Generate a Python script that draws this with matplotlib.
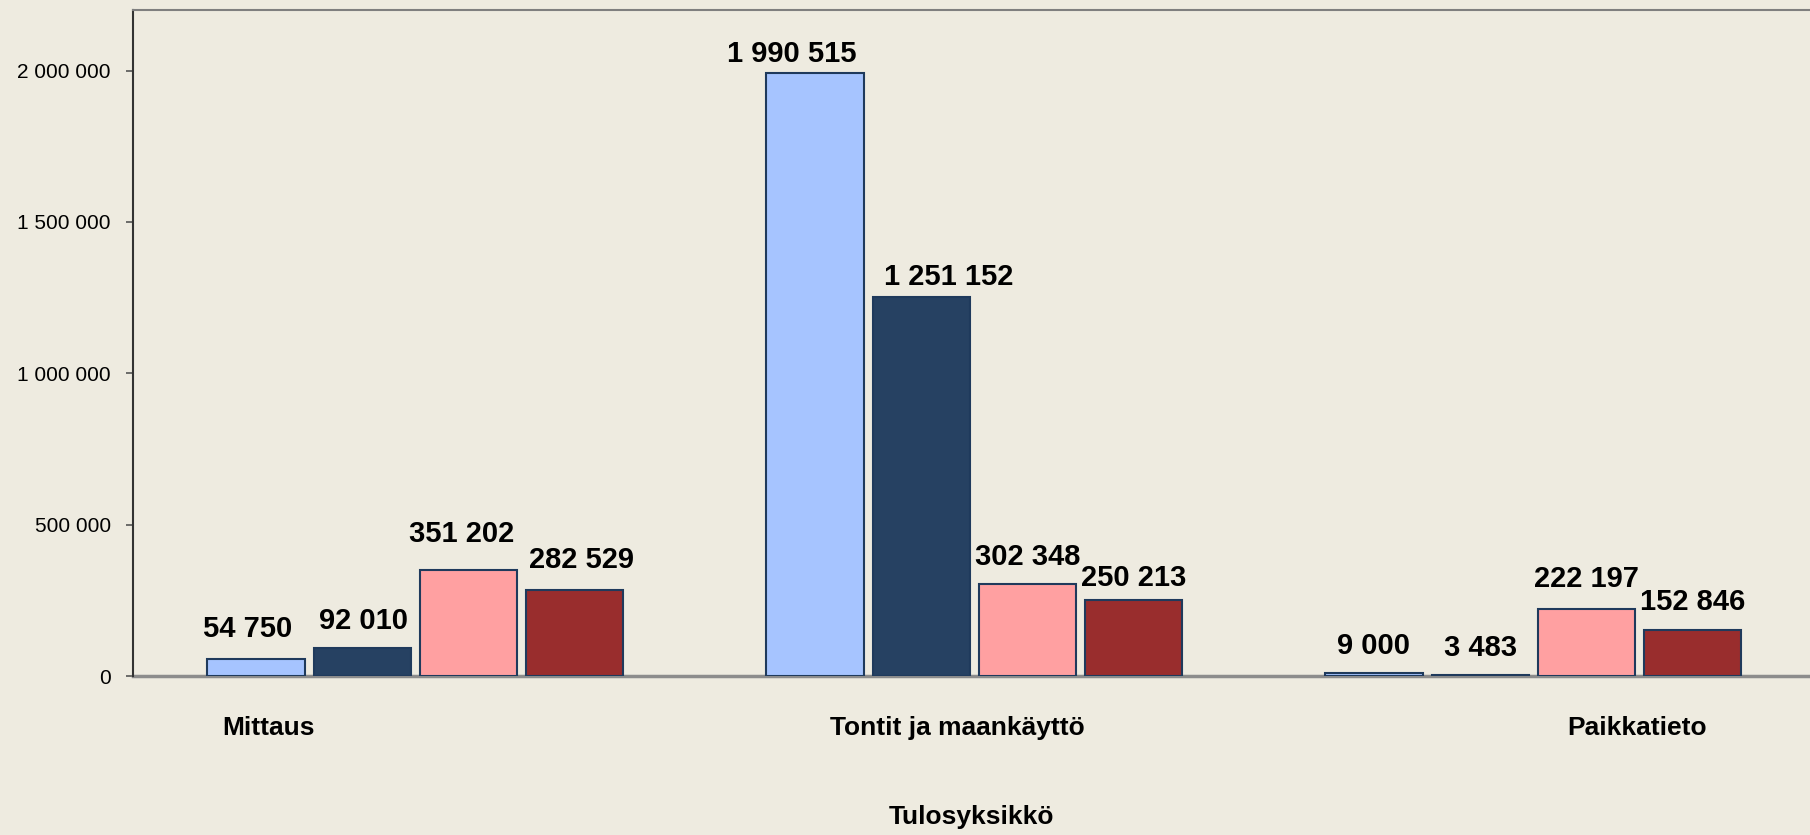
import numpy as np
import matplotlib
matplotlib.use("Agg")
import matplotlib.pyplot as plt
import matplotlib.transforms as mtransforms

categories = ["Mittaus", "Tontit ja maankäyttö", "Paikkatieto"]
series_1 = [54750, 1990515, 9000]
series_2 = [92010, 1251152, 3483]
series_3 = [351202, 302348, 222197]
series_4 = [282529, 250213, 152846]
yticks = [0, 500000, 1000000, 1500000, 2000000]

colors = ["#A6C4FF", "#264162", "#FFA0A1", "#992D2D"]
bg = "#EEEBE0"

# small label nudges (points), one row per series, copied from the original's placement
nudge_x = [[-6, -17, 0], [1, 20, 0], [-5, 0, 0], [5, 0, 0]]
nudge_y = [[2, -6, 0], [0, -5, 0], [6, 0, 2], [2, -4, 0]]


def fmt(v):
    return f"{v:,}".replace(",", " ")


plt.rcParams["font.family"] = ["Liberation Sans", "DejaVu Sans"]

fig = plt.figure(figsize=(18.1, 8.35), dpi=100, facecolor=bg)
ax = fig.add_axes([133 / 1810, 159 / 835, 1 - 133 / 1810, 666 / 835])
ax.set_facecolor(bg)

x = np.arange(len(categories))
width = 0.174
step = 0.19
offsets = [-1.5 * step, -0.5 * step, 0.5 * step, 1.5 * step]

all_series = [series_1, series_2, series_3, series_4]
for k, (vals, off, col) in enumerate(zip(all_series, offsets, colors)):
    bars = ax.bar(x + off + 0.005, vals, width=width, color=col,
                  edgecolor="#1F3A5C", linewidth=1.5, zorder=3)
    for j, (b, v) in enumerate(zip(bars, vals)):
        ax.annotate(fmt(v), (b.get_x() + b.get_width() / 2, v),
                    xytext=(nudge_x[k][j], 14 + nudge_y[k][j]),
                    textcoords="offset points",
                    ha="center", va="baseline", fontsize=21,
                    fontweight="bold", color="black", zorder=4)

ax.set_xlim(-0.5, 2.5)
ax.set_ylim(0, 2200000)
ax.set_xticks([])
ax.set_yticks(yticks)
ax.set_yticklabels([fmt(t) for t in yticks], fontsize=15)
ax.tick_params(axis="y", length=5, width=1.2, color="#555555", pad=11)

# category labels sit off-centre, as in the original
label_off = [-0.257, -0.026, 0.19]
trans = mtransforms.blended_transform_factory(ax.transData, ax.transAxes)
for i, (cat, lo) in enumerate(zip(categories, label_off)):
    ax.text(i + lo, -0.078, cat, transform=trans, ha="center", va="center",
            fontsize=19, fontweight="bold")

ax.set_xlabel("Tulosyksikkö", fontsize=19, fontweight="bold")
ax.xaxis.set_label_coords(0.5, -0.212)
ax.xaxis.label.set_va("center")

ax.spines["right"].set_visible(False)
ax.spines["left"].set_color("#333333")
ax.spines["left"].set_linewidth(1.5)
ax.spines["top"].set_color("#7F7F7F")
ax.spines["top"].set_linewidth(1.5)
ax.spines["bottom"].set_color("#8C8C8C")
ax.spines["bottom"].set_linewidth(2.5)
ax.spines["bottom"].set_zorder(2)

fig.savefig("out.png", dpi=100, facecolor=bg)
